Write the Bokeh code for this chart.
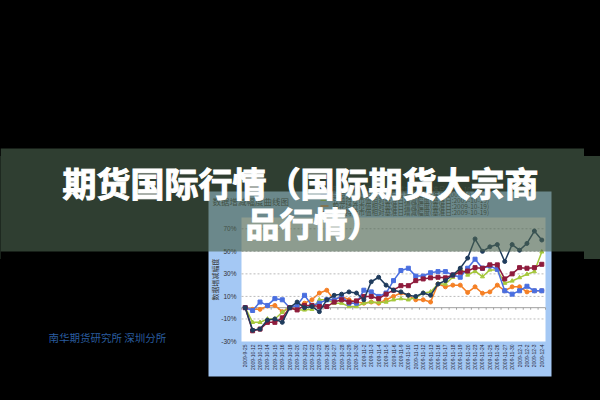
import math
from bokeh.plotting import figure
from bokeh.models import (Range1d, BoxAnnotation, Label,
                          FixedTicker, PrintfTickFormatter, ColumnDataSource)
from bokeh.embed import file_html
from bokeh.resources import INLINE

# ---------------- data ----------------
dates = ["2009-9-25", "2009-10-12", "2009-10-13", "2009-10-14", "2009-10-15", "2009-10-16",
         "2009-10-19", "2009-10-20", "2009-10-21", "2009-10-22", "2009-10-23", "2009-10-26",
         "2009-10-27", "2009-10-28", "2009-10-29", "2009-10-30", "2009-11-2", "2009-11-3",
         "2009-11-4", "2009-11-5", "2009-11-6", "2009-11-9", "2009-11-10", "2009-11-11",
         "2009-11-12", "2009-11-13", "2009-11-16", "2009-11-17", "2009-11-18", "2009-11-19",
         "2009-11-20", "2009-11-23", "2009-11-24", "2009-11-25", "2009-11-26", "2009-11-27",
         "2009-11-30", "2009-12-1", "2009-12-2", "2009-12-3", "2009-12-4"]

y_ticks = [-30, -10, 10, 30, 50, 70]
y_lo, y_hi = -30, 80

names = ["铜", "铝", "豆油", "棉花", "橡胶"]

navy = [0, -20, -19, -11, -10, -13, 0, 5, 0, 1, -3.5, 7, 11, 12, 14, 13, 7, 23, 27, 20,
        15.5, 14, 11, 10, 13, 11, 21, 24, 29, 35, 44, 61, 50, 54, 56, 41, 56, 51, 57, 68, 60]
blue = [0, -2.5, 5, 2, 8, 7, 0, 2, 11, 2, 4, 7, 7, 10, 4, 4, 15.5, 14, 10, 13,
        24, 33, 35, 28, 28, 31, 32, 32, 29, 27, 35, 43, 35, 37, 34, 15, 12, 15, 19, 15, 15]
green = [0, -13, -13, -10, -10, -4, 0, -2, -2, -1.5, 7, 7, 4, 4, 1, 1, 4, 5, 4.5, 5,
         7, 8, 7, 9, 13, 14, 21, 21, 27, 35, 29, 32.5, 27.5, 33.5, 33.5, 21.7, 23.7, 26.7, 29.7, 32, 49.5]
orange = [0, -1.5, -1.5, 1.5, 2, -3.5, 0, 1, 4, 7, 13, 15.5, 7, 10, 7, 5, 4, 5, 4, 7,
          10, 13, 11, 7, 7, 5, 21, 18.5, 20, 20, 13.5, 18.5, 12.8, 14, 20, 15, 18.5, 18.5, 14, 15, 15]
maroon = [0, -20.5, -19, -13, -13, -9, 0, -2, 2, 2, 1, 1, 5, 7, 5, 6, 10, 10, 8, 12,
          15.5, 19.5, 19.5, 24, 25.5, 26.5, 27, 26.5, 29, 31.5, 32.5, 35.5, 35, 38, 38, 25.5, 30, 35.5, 35, 35.5, 38.5]

# ---------------- layout ----------------
W, H = 584, 384
PL, PR, PT, PB = 241, 545, 217, 341      # inner plot area (px)
n = len(dates)
idx = list(range(n))
ux = (PR - PL) / n
uy = (PB - PT) / (y_hi - y_lo)
x_start = (0 - PL) / ux - 0.5
x_end = (W - PL) / ux - 0.5
y_end = y_lo + PB / uy
y_start = y_lo - (H - PB) / uy
xl, xr = -0.5, n - 0.5


def sy(py):  # px from top -> screen y (upwards)
    return H - py


p = figure(width=W, height=H, x_range=Range1d(x_start, x_end), y_range=Range1d(y_start, y_end),
           output_backend="svg", toolbar_location=None, title=None,
           min_border_left=0, min_border_right=0, min_border_top=0, min_border_bottom=0,
           background_fill_color="black", border_fill_color="black", outline_line_color=None)
p.grid.visible = False

# chart panel (light blue) and plot area (white)
p.add_layout(BoxAnnotation(left=208, right=551, top=sy(191), bottom=sy(376),
                           left_units="screen", right_units="screen",
                           top_units="screen", bottom_units="screen",
                           fill_color="#A4C8F4", fill_alpha=1, line_color=None, level="image"))
p.add_layout(BoxAnnotation(left=xl, right=xr, top=y_hi, bottom=y_lo,
                           fill_color="white", fill_alpha=1, line_color=None, level="image"))

# gridlines, zero (category) line and its tick marks
grid_y = [t for t in y_ticks if t > y_lo]
p.segment(x0=[xl] * len(grid_y), x1=[xr] * len(grid_y), y0=grid_y, y1=grid_y,
          line_color="#BBBBBB", line_dash="2 2", line_width=1, level="underlay")
p.segment(x0=[xl], x1=[xr], y0=[0], y1=[0], line_color="#A0A0A0", line_width=1, level="underlay")
bounds_x = [i - 0.5 for i in range(n + 1)]
p.segment(x0=bounds_x, x1=bounds_x, y0=[0] * len(bounds_x), y1=[-2 / uy] * len(bounds_x),
          line_color="#A0A0A0", line_width=1, level="underlay")

# axes
xa = p.xaxis[0]
xa.fixed_location = y_lo
xa.bounds = (xl, xr)
xa.ticker = FixedTicker(ticks=idx)
xa.major_label_overrides = {i: d for i, d in zip(idx, dates)}
xa.major_label_orientation = math.pi / 2
xa.major_label_text_font = "Liberation Sans"
xa.major_label_text_font_size = "5px"
xa.major_label_text_color = "#2a2a3a"
xa.major_label_standoff = 3
xa.axis_line_color = None
xa.major_tick_line_color = None
xa.minor_tick_line_color = None
xa.major_tick_out = 0
xa.minor_tick_out = 0

ya = p.yaxis[0]
ya.fixed_location = xl
ya.bounds = (y_lo, y_hi)
ya.ticker = FixedTicker(ticks=y_ticks)
ya.formatter = PrintfTickFormatter(format="%d%%")
ya.major_label_text_font = "Liberation Sans"
ya.major_label_text_font_size = "6.5px"
ya.major_label_text_color = "#333333"
ya.major_label_standoff = 5
ya.axis_line_color = None
ya.major_tick_line_color = None
ya.minor_tick_line_color = None
ya.major_tick_out = 0
ya.minor_tick_out = 0
ya.axis_label = "数据增减幅度"
ya.axis_label_text_font = "Noto Sans CJK SC"
ya.axis_label_text_font_size = "7px"
ya.axis_label_text_font_style = "normal"
ya.axis_label_text_color = "#333333"
ya.axis_label_standoff = -2

# series
series = [
    (names[3], orange, "#F58025", "circle"),
    (names[2], green, "#A6C83C", "triangle"),
    (names[1], blue, "#4A6FE0", "square"),
    (names[4], maroon, "#8E1B3C", "square"),
    (names[0], navy, "#1F3B5C", "circle"),
]
color_of = {}
for name, vals, color, marker in series:
    src = ColumnDataSource(dict(x=idx, y=vals))
    p.line("x", "y", source=src, line_color=color, line_width=1.5)
    p.scatter("x", "y", source=src, marker=marker, size=4,
              fill_color=color, line_color=color)
    color_of[name] = color

# legend rows (kept under the headline band)
LG_X, LG_Y0, LG_DY = 320, 188, 5.85
for k, nm in enumerate(names):
    yy = LG_Y0 + k * LG_DY
    p.add_layout(BoxAnnotation(left=LG_X, right=LG_X + 8, top=sy(yy - 0.7), bottom=sy(yy + 0.7),
                               left_units="screen", right_units="screen",
                               top_units="screen", bottom_units="screen",
                               fill_color=color_of[nm], fill_alpha=1, line_color=None,
                               level="underlay"))
    p.add_layout(Label(x=LG_X + 12, y=sy(yy), x_units="screen", y_units="screen",
                       text=f"{nm}持仓市值相对基准日增减幅度(基准日:2009-10-19)",
                       text_font="Noto Sans CJK SC", text_font_size="6.5px",
                       text_color="#333333", text_baseline="middle", text_align="left",
                       level="underlay"))

p.add_layout(Label(x=212, y=sy(200), x_units="screen", y_units="screen",
                   text="数据增减幅度曲线图", text_font="Noto Sans CJK SC",
                   text_font_size="8.5px", text_color="#333333", text_baseline="middle",
                   text_align="left", level="underlay"))

# translucent band and headline
p.add_layout(BoxAnnotation(left=0, right=W, top=sy(148), bottom=sy(251),
                           left_units="screen", right_units="screen",
                           top_units="screen", bottom_units="screen",
                           fill_color="#4B624E", fill_alpha=0.63, line_color=None, level="overlay"))
p.add_layout(Label(x=62, y=sy(182), x_units="screen", y_units="screen",
                   text="期货国际行情（国际期货大宗商", text_font="Noto Sans CJK SC",
                   text_font_size="34px", text_font_style="bold", text_color="white",
                   text_outline_color="white",
                   text_baseline="middle", text_align="left", level="overlay"))
p.add_layout(Label(x=245, y=sy(222), x_units="screen", y_units="screen",
                   text="品行情）", text_font="Noto Sans CJK SC",
                   text_font_size="34px", text_font_style="bold", text_color="white",
                   text_outline_color="white",
                   text_baseline="middle", text_align="left", level="overlay"))
p.add_layout(Label(x=48, y=sy(337), x_units="screen", y_units="screen",
                   text="南华期货研究所  深圳分所", text_font="Noto Sans CJK SC",
                   text_font_size="10.5px", text_color="#2A5D9F",
                   text_baseline="middle", text_align="left", level="overlay"))

html = file_html(p, INLINE, title="期货国际行情")
css = ("<style>body{background:linear-gradient(to bottom,#000 0px,#000 156px,#2F3E31 156px,"
       "#2F3E31 259px,#000 259px) no-repeat #000;}</style>")
html = html.replace("</head>", css + "</head>", 1)
open("out.html", "w").write(html)
